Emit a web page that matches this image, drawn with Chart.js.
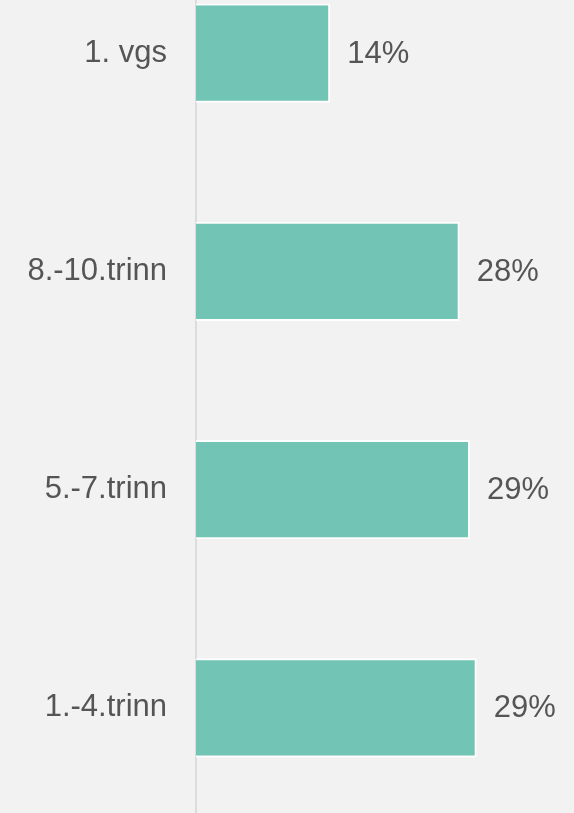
<!DOCTYPE html>
<html>
<head>
	<meta charset="utf-8">
	<title>trinn</title>
	<script src="https://cdn.jsdelivr.net/npm/chart.js@4/dist/chart.umd.min.js"></script>
	<style>
		html, body { margin: 0; padding: 0; background: #f2f2f2; overflow: hidden; }
		#vindu { width: 574px; height: 813px; position: relative; overflow: hidden; }
		/* the chart runs past the top and bottom edge, as in the reference */
		#wrap { width: 574px; height: 873px; position: absolute; top: -56px; left: 0; }
	</style>
</head>
<body>
	<div id="vindu">
		<div id="wrap">
			<canvas id="chart"></canvas>
		</div>
	</div>
	<script>
		// data
		var kategorier = ["1. vgs", "8.-10.trinn", "5.-7.trinn", "1.-4.trinn"];
		var andel = [14.2, 27.9, 29.0, 29.7];
		var andelTekst = ["14%", "28%", "29%", "29%"];

		var tekstFarge = "#555555";
		var font = "Liberation Sans, Arial, sans-serif";

		// writes the percent label right of every bar
		var verdiEtiketter = {
			id: "verdiEtiketter",
			afterDatasetsDraw: function(chart) {
				var ctx = chart.ctx;
				var meta = chart.getDatasetMeta(0);
				ctx.save();
				ctx.fillStyle = tekstFarge;
				ctx.font = "31px " + font;
				ctx.textAlign = "left";
				ctx.textBaseline = "middle";
				meta.data.forEach(function(bar, i) {
					ctx.fillText(andelTekst[i], bar.x + 17, bar.y + 1);
				});
				ctx.restore();
			}
		};

		var ctx = document.getElementById("chart").getContext("2d");
		window.bar = new Chart(ctx, {
			type: "bar",
			data: {
				labels: kategorier,
				datasets: [{
					data: andel,
					backgroundColor: "#72c4b4",
					borderColor: "#ffffff",
					borderWidth: { top: 2, right: 2, bottom: 2, left: 0 },
					borderSkipped: "start",
					barPercentage: 0.455,
					categoryPercentage: 1
				}]
			},
			options: {
				indexAxis: "y",
				responsive: true,
				maintainAspectRatio: false,
				animation: false,
				layout: {
					padding: 0
				},
				plugins: {
					legend: { display: false },
					tooltip: { enabled: false }
				},
				scales: {
					x: {
						display: false,
						min: 0,
						max: 40
					},
					y: {
						grid: { display: false },
						border: { display: true, color: "#dcdcdc", width: 2 },
						ticks: {
							color: tekstFarge,
							font: { family: font, size: 31 },
							padding: 21
						},
						afterFit: function(scale) {
							scale.width = 196;
							scale.paddingTop = 0;
							scale.paddingBottom = 0;
						}
					}
				}
			},
			plugins: [verdiEtiketter]
		});
	</script>
</body>
</html>
